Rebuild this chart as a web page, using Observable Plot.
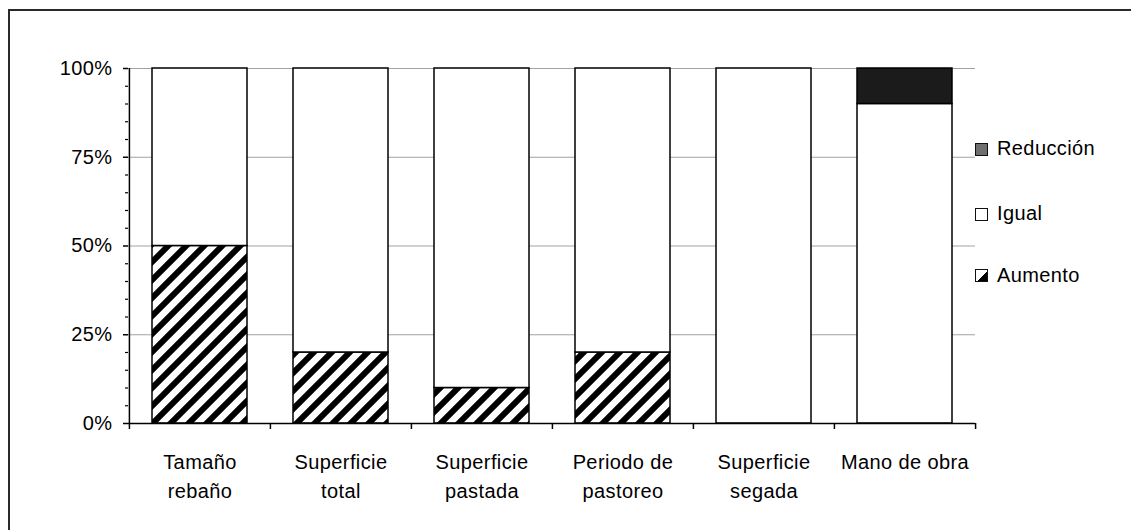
<!DOCTYPE html>
<html>
<head>
<meta charset="utf-8">
<script src="https://cdn.jsdelivr.net/npm/d3@7"></script>
<script src="https://cdn.jsdelivr.net/npm/@observablehq/plot@0.6"></script>
<style>
  html, body { margin: 0; padding: 0; background: #fff; }
  #wrap { position: relative; width: 1131px; height: 530px; overflow: hidden; font-family: "Liberation Sans", Arial, sans-serif; color: #000; }
  #frame { position: absolute; left: 8px; top: 9px; width: 2000px; height: 2000px; border-top: 2px solid #2a2a2a; border-left: 2px solid #2a2a2a; box-sizing: border-box; }
  #chart { position: absolute; left: 0; top: 0; }
  .leg { position: absolute; left: 975px; font-size: 20px; line-height: 23px; white-space: nowrap; letter-spacing: 0.4px; }
  .leg .sw { position: absolute; left: 0; width: 13px; height: 13px; box-sizing: border-box; border: 1.5px solid #111; }
  .leg .tx { position: absolute; left: 22px; top: 0; }
</style>
</head>
<body>
<div id="wrap">
  <div id="frame"></div>
  <div id="chart"></div>
  <div id="legend"></div>
</div>
<script>
const categories = ["Tamaño rebaño", "Superficie total", "Superficie pastada", "Periodo de pastoreo", "Superficie segada", "Mano de obra"];
const tickLabels = ["Tamaño\nrebaño", "Superficie\ntotal", "Superficie\npastada", "Periodo de\npastoreo", "Superficie\nsegada", "Mano de obra"];
const series = ["Aumento", "Igual", "Reducción"];
const aumento = [50, 20, 10, 20, 0, 0];
const igual = [50, 80, 90, 80, 100, 90];
const reduccion = [0, 0, 0, 0, 0, 10];
const yTicks = [0, 25, 50, 75, 100];
const yMinorTicks = [5, 10, 15, 20, 30, 35, 40, 45, 55, 60, 65, 70, 80, 85, 90, 95];

const rows = [];
categories.forEach((c, i) => {
  [aumento, igual, reduccion].forEach((arr, k) => {
    if (arr[i] > 0) rows.push({cat: c, serie: series[k], value: arr[i]});
  });
});

const W = 1131, H = 530, mL = 128, mR = 156, mT = 68, mB = 107;
const bw = (W - mL - mR) / categories.length;
const inset = 23;

const plot = Plot.plot({
  width: W, height: H,
  marginLeft: mL, marginRight: mR, marginTop: mT, marginBottom: mB,
  style: {fontFamily: "Liberation Sans, Arial, sans-serif", fontSize: "20px", color: "#000", background: "transparent", overflow: "visible", letterSpacing: "0.4px"},
  x: {type: "band", domain: categories, padding: 0, label: null},
  y: {domain: [0, 100], label: null},
  color: {domain: series, range: ["url(#hatch)", "#ffffff", "#1b1b1b"]},
  marks: [
    Plot.gridY(yTicks.slice(1), {stroke: "#8a8a8a", strokeOpacity: 1, strokeWidth: 0.8}),
    Plot.barY(rows, Plot.stackY({x: "cat", y: "value", fill: "serie", stroke: "#000", strokeWidth: 1.5, insetLeft: inset, insetRight: inset})),
    Plot.ruleY([0], {stroke: "#000", strokeWidth: 1.5}),
    Plot.ruleX([categories[0]], {dx: -bw / 2, y1: 0, y2: 100, stroke: "#000", strokeWidth: 1.5}),
    Plot.axisY(yTicks, {tickSize: 5, fill: "none", stroke: "#000", strokeWidth: 1.5, label: null}),
    Plot.axisY(yMinorTicks, {tickSize: 3, fill: "none", stroke: "#000", strokeWidth: 1.2, label: null}),
    Plot.axisY(yTicks, {tickSize: 0, tickPadding: 16, tickFormat: d => d + "%", fontSize: 20, fill: "#000", label: null}),
    Plot.axisX(categories, {tickSize: 6, fill: "none", dx: -bw / 2, stroke: "#000", strokeWidth: 1.5, label: null}),
    Plot.axisX([categories[categories.length - 1]], {tickSize: 6, fill: "none", dx: bw / 2, stroke: "#000", strokeWidth: 1.5, label: null}),
    Plot.axisX(categories, {tickSize: 0, tickPadding: 25, tickFormat: d => tickLabels[categories.indexOf(d)], lineHeight: 1.45, fontSize: 20, fill: "#000", label: null})
  ]
});

const ns = "http://www.w3.org/2000/svg";
const defs = document.createElementNS(ns, "defs");
defs.innerHTML = `<pattern id="hatch" patternUnits="userSpaceOnUse" width="18" height="18">
  <rect width="18" height="18" fill="#ffffff"></rect>
  <path d="M-4.5,4.5 L4.5,-4.5 M0,18 L18,0 M13.5,22.5 L22.5,13.5" stroke="#000" stroke-width="6"></path>
</pattern>`;
plot.prepend(defs);
document.getElementById("chart").appendChild(plot);

// legend
const legendItems = [
  {name: "Reducción", top: 137, swTop: 6, kind: "gray"},
  {name: "Igual", top: 202, swTop: 6, kind: "white"},
  {name: "Aumento", top: 264, swTop: 5, kind: "tri"}
];
const leg = document.getElementById("legend");
legendItems.forEach(it => {
  const d = document.createElement("div");
  d.className = "leg";
  d.style.top = it.top + "px";
  const sw = document.createElement("div");
  sw.className = "sw";
  sw.style.top = it.swTop + "px";
  if (it.kind === "gray") sw.style.background = "#6f6f6f";
  else if (it.kind === "white") sw.style.background = "#fff";
  else sw.style.background = "linear-gradient(135deg, #fff 0 55%, #000 55% 100%)";
  const tx = document.createElement("span");
  tx.className = "tx";
  tx.textContent = it.name;
  d.appendChild(sw);
  d.appendChild(tx);
  leg.appendChild(d);
});
</script>
</body>
</html>
